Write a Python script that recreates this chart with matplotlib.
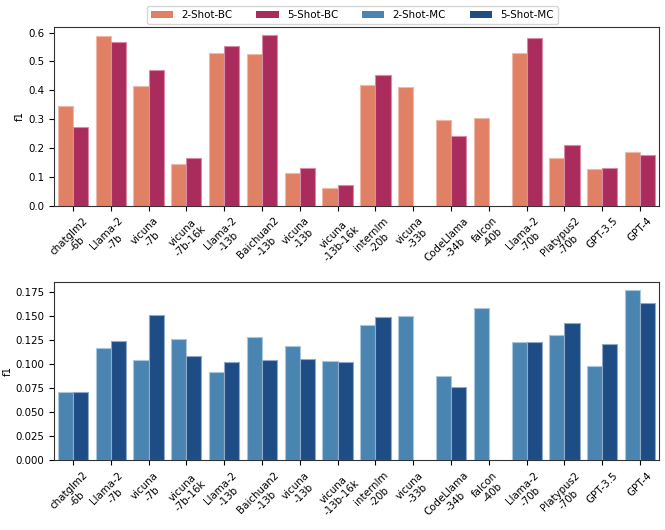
import numpy as np
import matplotlib
matplotlib.use('Agg')
import matplotlib.pyplot as plt
from matplotlib.patches import Patch
from matplotlib.ticker import FormatStrFormatter

# ── Data ──────────────────────────────────────────────────────────────────────

models = ['chatglm2\n-6b', 'Llama-2\n-7b', 'vicuna\n-7b', 'vicuna\n-7b-16k',
          'Llama-2\n-13b', 'Baichuan2\n-13b', 'vicuna\n-13b', 'vicuna\n-13b-16k',
          'internlm\n-20b', 'vicuna\n-33b', 'CodeLlama\n-34b', 'falcon\n-40b',
          'Llama-2\n-70b', 'Platypus2\n-70b', 'GPT-3.5', 'GPT-4']

bc_2shot = [0.344, 0.589, 0.414, 0.144, 0.528, 0.525, 0.114, 0.063,
            0.419, 0.410, 0.297, 0.305, 0.529, 0.166, 0.128, 0.187]
bc_5shot = [0.274, 0.566, 0.469, 0.165, 0.555, 0.590, 0.132, 0.073,
            0.454, np.nan, 0.243, np.nan, 0.581, 0.212, 0.130, 0.175]

mc_2shot = [0.0704, 0.1167, 0.1039, 0.1253, 0.0918, 0.1281, 0.1184, 0.1025,
            0.1398, 0.1495, 0.0877, 0.1584, 0.1222, 0.1301, 0.0977, 0.1764]
mc_5shot = [0.0708, 0.1236, 0.1502, 0.1077, 0.1022, 0.1039, 0.1046, 0.1018,
            0.1481, np.nan, 0.0759, np.nan, 0.1229, 0.1422, 0.1201, 0.1636]

series_names = ['2-Shot-BC', '5-Shot-BC', '2-Shot-MC', '5-Shot-MC']
colors = ['#E08064', '#AA2C5C', '#4A85B2', '#1E4D85']
edges = ['#F0B8A6', '#D88AA6', '#A9C6DD', '#8FA9C8']

FS = 7.4


def draw_panel(ax, first, second, c1, c2, e1, e2):
    x = np.arange(len(models))
    w = 0.4
    ax.bar(x - w / 2, np.nan_to_num(first, nan=0.0), width=w, color=c1,
           edgecolor=e1, linewidth=0.8)
    sec = np.asarray(second, dtype=float)
    ok = ~np.isnan(sec)
    ax.bar(x[ok] + w / 2, sec[ok], width=w, color=c2,
           edgecolor=e2, linewidth=0.8)
    ax.set_xlim(-0.5, len(models) - 0.5)
    top = np.nanmax(np.concatenate([np.asarray(first, float), sec]))
    ax.set_ylim(0, top * 1.05)
    ax.set_xticks(x)
    ax.set_xticklabels(models, rotation=45, fontsize=FS)
    ax.tick_params(axis='y', labelsize=FS)
    ax.set_ylabel('f1', fontsize=FS)
    for s in ax.spines.values():
        s.set_color('#333333')


fig = plt.figure(figsize=(6.65, 5.3), dpi=100)
ax1 = fig.add_axes([0.0812, 0.6119, 0.9098, 0.3372])
ax2 = fig.add_axes([0.0812, 0.1315, 0.9098, 0.3370])

draw_panel(ax1, bc_2shot, bc_5shot, colors[0], colors[1], edges[0], edges[1])
draw_panel(ax2, mc_2shot, mc_5shot, colors[2], colors[3], edges[2], edges[3])
ax1.set_yticks([0.0, 0.1, 0.2, 0.3, 0.4, 0.5, 0.6])
ax2.set_yticks(np.arange(0, 0.176, 0.025))
ax2.yaxis.set_major_formatter(FormatStrFormatter('%.3f'))
ax1.yaxis.set_label_coords(-0.048, 0.5)
ax2.yaxis.set_label_coords(-0.069, 0.5)

handles = [Patch(facecolor=c, label=n) for c, n in zip(colors, series_names)]
ax1.legend(handles=handles, loc='lower center', bbox_to_anchor=(0.493, 1.0),
           ncol=4, fontsize=FS, frameon=True, borderaxespad=0.25,
           columnspacing=2.3, handlelength=2.2)

fig.savefig('out.png', dpi=100)
